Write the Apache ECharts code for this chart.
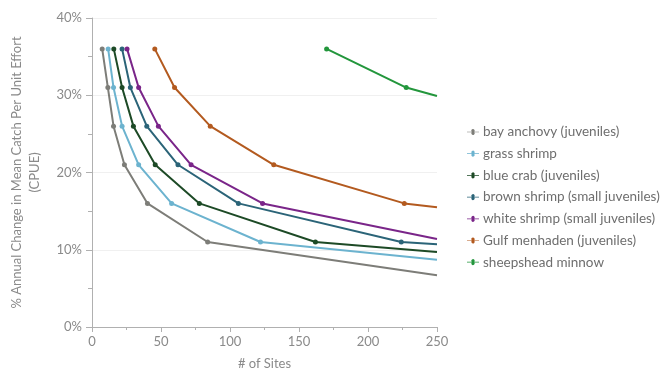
<!DOCTYPE html>
<html><head><meta charset="utf-8">
<script src="https://cdn.jsdelivr.net/npm/echarts@6/dist/echarts.min.js"></script>
<style>html,body{margin:0;padding:0;background:#fff}#c{width:667px;height:375px}</style>
</head><body><div id="c"></div>
<script>
const seriesNames = ['bay anchovy (juveniles)','grass shrimp','blue crab (juveniles)','brown shrimp (small juveniles)','white shrimp (small juveniles)','Gulf menhaden (juveniles)','sheepshead minnow'];
const colors = ['#7d7d78','#6cb3cf','#1d4a26','#2b6478','#7a2589','#b35a1f','#23963c'];
// points: [sites, % change]; last point of each is the line end at the axis edge (no marker)
const bayAnchovy   = [[7.4,36],[11.5,31],[15.6,26],[23.5,21],[40.2,16],[83.8,11],[250,6.7]];
const grassShrimp  = [[11.7,36],[15.6,31],[21.8,26],[33.8,21],[57.7,16],[122.1,11],[250,8.7]];
const blueCrab     = [[15.8,36],[21.8,31],[30,26],[45.8,21],[77.8,16],[161.9,11],[250,9.7]];
const brownShrimp  = [[21.8,36],[27.8,31],[39.7,26],[62.3,21],[106.1,16],[224.1,11],[250,10.7]];
const whiteShrimp  = [[25.4,36],[33.8,31],[48.1,26],[71.8,21],[123.6,16],[250,11.4]];
const gulfMenhaden = [[45.5,36],[59.8,31],[85.7,26],[131.7,21],[226.3,16],[250,15.5]];
const sheepshead   = [[170,36],[227.7,31],[250,29.9]];
const allData = [bayAnchovy,grassShrimp,blueCrab,brownShrimp,whiteShrimp,gulfMenhaden,sheepshead];

const font = 'Lato';
const txt = '#8a8a8a';
const chart = echarts.init(document.getElementById('c'), null, {renderer:'canvas'});
chart.setOption({
  animation:false,
  color: colors,
  textStyle:{fontFamily:font},
  grid:{left:89, right:230, top:18, bottom:46},
  legend:{
    orient:'vertical', left:462, top:120, itemWidth:18, itemHeight:6, itemGap:7.7,
    textStyle:{color:'#6e6e6e', fontSize:13.5, fontFamily:font, padding:[0,0,0,-4]},
    data: seriesNames.map(n=>({name:n, icon:'path://M0,2.5 L7,2.5 A2.5,2.5 0 1 1 11,2.5 L18,2.5 L18,3.5 L11,3.5 A2.5,2.5 0 1 1 7,3.5 L0,3.5 Z'}))
  },
  xAxis:{
    type:'value', min:0, max:250, interval:50,
    name:'# of Sites', nameLocation:'middle', nameGap:30,
    nameTextStyle:{color:txt, fontSize:13, fontFamily:font},
    axisLine:{show:true, lineStyle:{color:'#b0b0b0'}},
    axisTick:{show:true, length:5, lineStyle:{color:'#b0b0b0'}},
    minorTick:{show:true, splitNumber:2, length:3, lineStyle:{color:'#b0b0b0'}},
    splitLine:{show:false},
    axisLabel:{color:txt, fontSize:13, margin:8, fontFamily:font}
  },
  yAxis:{
    type:'value', min:0, max:40, interval:10,
    name:'% Annual Change in Mean Catch Per Unit Effort\n(CPUE)', nameLocation:'middle', nameGap:48,
    nameTextStyle:{color:txt, fontSize:13, fontFamily:font, lineHeight:18},
    axisLine:{show:true, lineStyle:{color:'#b0b0b0'}},
    axisTick:{show:true, length:6, lineStyle:{color:'#b0b0b0'}},
    minorTick:{show:true, splitNumber:2, length:4, lineStyle:{color:'#b0b0b0'}},
    splitLine:{show:true, lineStyle:{color:'#f0f0f0'}},
    axisLabel:{color:txt, fontSize:13, margin:10, fontFamily:font, formatter:'{value}%'}
  },
  series: seriesNames.map((n,i)=>({
    name:n, type:'line', smooth:false, symbol:'circle', symbolSize:5,
    lineStyle:{width:2}, itemStyle:{color:colors[i]},
    data: allData[i].map((p,j,a)=> j===a.length-1 ? {value:p, symbol:'none'} : p)
  }))
});
</script></body></html>
